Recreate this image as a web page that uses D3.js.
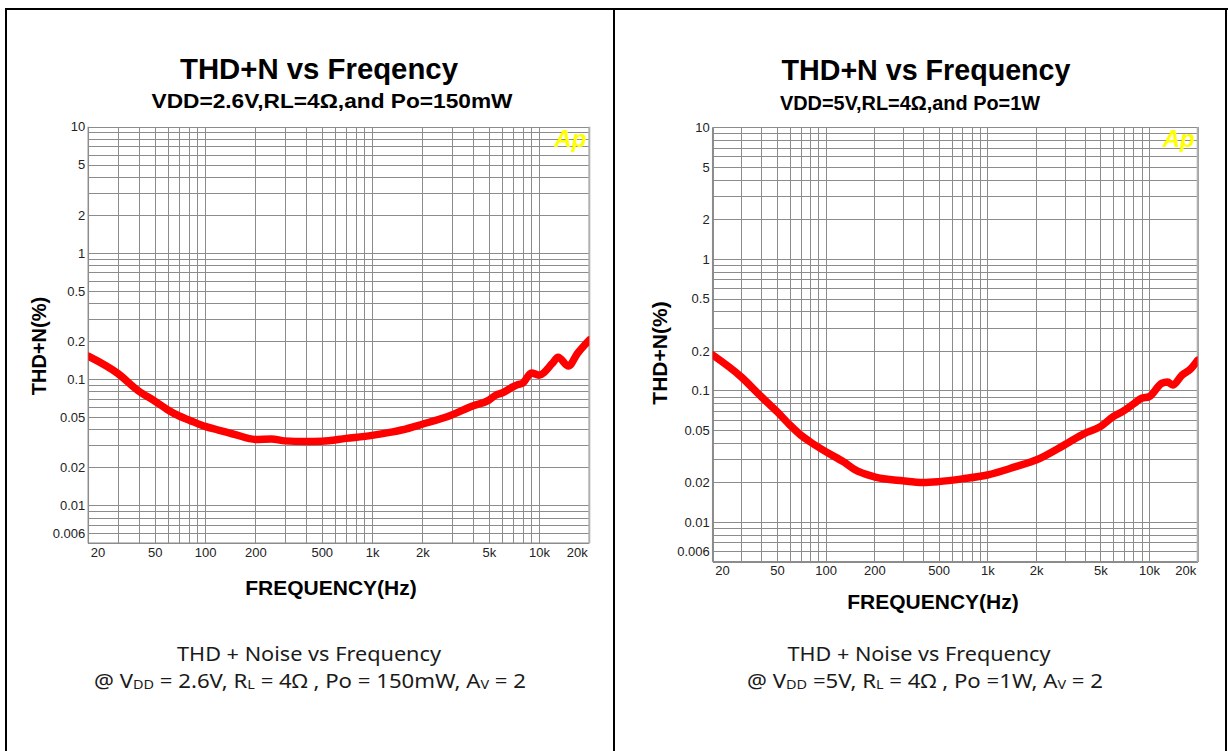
<!DOCTYPE html>
<html><head><meta charset="utf-8">
<script src="https://cdn.jsdelivr.net/npm/d3@7"></script>
<style>html,body{margin:0;padding:0;background:#fff;}svg{display:block;}</style>
</head><body>
<svg id="c" width="1228" height="751"></svg>
<script>
// ---- data ----
const freqTicks = [20, 50, 100, 200, 500, 1000, 2000, 5000, 10000, 20000];
const freqTickLabels = ["20", "50", "100", "200", "500", "1k", "2k", "5k", "10k", "20k"];
const thdTicks = [10, 5, 2, 1, 0.5, 0.2, 0.1, 0.05, 0.02, 0.01, 0.006];
const thdTickLabels = ["10", "5", "2", "1", "0.5", "0.2", "0.1", "0.05", "0.02", "0.01", "0.006"];

const freqLeft = [20, 30, 40, 50, 60, 70, 80, 100, 120, 150, 200, 250, 300, 400, 500, 700, 1000, 1300, 1500, 2000, 3000, 4000, 5000, 5500, 6000, 7000, 7500, 8000, 9000, 10000, 12000, 13000, 15000, 17000, 20000];
const thdLeft  = [0.152, 0.111, 0.0805, 0.067, 0.057, 0.051, 0.0475, 0.0422, 0.0395, 0.0365, 0.0333, 0.0336, 0.0324, 0.0321, 0.0322, 0.0339, 0.0358, 0.038, 0.0395, 0.0439, 0.052, 0.0613, 0.068, 0.0745, 0.0775, 0.087, 0.0905, 0.093, 0.112, 0.1075, 0.133, 0.149, 0.127, 0.16, 0.204];

const freqRight = [20, 30, 40, 50, 60, 70, 80, 100, 130, 150, 200, 300, 400, 500, 700, 1000, 1500, 2000, 3000, 4000, 5000, 6000, 7000, 8000, 9000, 10000, 12000, 13000, 14000, 16000, 18000, 20000];
const thdRight  = [0.186, 0.127, 0.0897, 0.069, 0.0547, 0.0459, 0.0408, 0.0343, 0.0285, 0.0252, 0.0221, 0.0206, 0.0200, 0.0203, 0.0213, 0.0228, 0.0264, 0.0296, 0.0386, 0.0473, 0.0531, 0.0632, 0.0702, 0.0789, 0.0873, 0.0897, 0.1135, 0.116, 0.110, 0.131, 0.145, 0.17];

const svg = d3.select("#c");

// outer table frame
const frame = svg.append("g").attr("stroke", "#000").attr("stroke-width", 2);
frame.append("line").attr("x1", 5).attr("x2", 1228).attr("y1", 9).attr("y2", 9);
frame.append("line").attr("x1", 6).attr("x2", 6).attr("y1", 8).attr("y2", 751);
frame.append("line").attr("x1", 614).attr("x2", 614).attr("y1", 8).attr("y2", 751);
frame.append("line").attr("x1", 1226).attr("x2", 1226).attr("y1", 8).attr("y2", 751);

function drawChart(cfg) {
  const g = svg.append("g");
  const x = d3.scaleLog().domain([20, 20000]).range([cfg.x0, cfg.x1]);
  const y = d3.scaleLog().domain([0.005, 10]).range([cfg.y1, cfg.y0]);

  // titles
  g.append("text").attr("x", cfg.titleX).attr("y", cfg.titleY)
    .attr("text-anchor", "middle").attr("font-family", "Liberation Sans, Arial, sans-serif")
    .attr("font-weight", "bold").attr("font-size", 29).attr("fill", "#000")
    .attr("textLength", cfg.titleW).attr("lengthAdjust", "spacingAndGlyphs")
    .text(cfg.title);
  g.append("text").attr("x", cfg.subX).attr("y", cfg.subY)
    .attr("text-anchor", "middle").attr("font-family", "Liberation Sans, Arial, sans-serif")
    .attr("font-weight", "bold").attr("font-size", 21).attr("fill", "#000")
    .attr("textLength", cfg.subW).attr("lengthAdjust", "spacingAndGlyphs")
    .text(cfg.subtitle);

  // grid
  const grid = g.append("g").attr("stroke", "#8c8c8c").attr("stroke-width", 1).attr("shape-rendering", "crispEdges");
  const yGrid = [], xGrid = [];
  for (let n = -3; n <= 1; n++) for (let k = 1; k <= 9; k++) {
    const v = k * Math.pow(10, n);
    if (v >= 0.005 && v <= 10.0001) yGrid.push(v);
  }
  for (let n = 1; n <= 4; n++) for (let k = 1; k <= 9; k++) {
    const v = k * Math.pow(10, n);
    if (v >= 20 && v <= 20000) xGrid.push(v);
  }
  grid.selectAll(".hy").data(yGrid).join("line")
    .attr("x1", cfg.x0).attr("x2", cfg.x1)
    .attr("y1", d => Math.round(y(d)) + 0.5).attr("y2", d => Math.round(y(d)) + 0.5);
  grid.selectAll(".vx").data(xGrid).join("line")
    .attr("y1", cfg.y0).attr("y2", cfg.y1)
    .attr("x1", d => Math.round(x(d)) + 0.5).attr("x2", d => Math.round(x(d)) + 0.5);
  // borders
  g.append("line").attr("x1", cfg.x0).attr("x2", cfg.x0).attr("y1", cfg.y0).attr("y2", cfg.y1)
    .attr("stroke", "#8c8c8c").attr("stroke-width", 1.5);
  g.append("line").attr("x1", cfg.x0).attr("x2", cfg.x1).attr("y1", cfg.y1).attr("y2", cfg.y1)
    .attr("stroke", "#8c8c8c").attr("stroke-width", 1.5);
  g.append("line").attr("x1", cfg.x1).attr("x2", cfg.x1).attr("y1", cfg.y0).attr("y2", cfg.y1)
    .attr("stroke", "#b0b0b0").attr("stroke-width", 2);

  // axes labels via d3 axes
  const yAxis = d3.axisLeft(y).tickValues(thdTicks).tickSize(0).tickPadding(3)
    .tickFormat((d, i) => thdTickLabels[i]);
  const ya = g.append("g").attr("transform", `translate(${cfg.x0},0)`).call(yAxis);
  ya.select(".domain").remove();
  ya.selectAll("text").attr("font-family", "Liberation Sans, Arial, sans-serif").attr("font-size", 13).attr("fill", "#222");

  const xAxis = d3.axisBottom(x).tickValues(freqTicks).tickSize(0).tickPadding(4)
    .tickFormat((d, i) => freqTickLabels[i]);
  const xa = g.append("g").attr("transform", `translate(0,${cfg.y1})`).call(xAxis);
  xa.select(".domain").remove();
  xa.selectAll("text").attr("font-family", "Liberation Sans, Arial, sans-serif").attr("font-size", 13).attr("fill", "#222")
    .attr("text-anchor", (d, i) => i === 0 ? "start" : (i === freqTicks.length - 1 ? "end" : "middle"))
    .attr("dx", (d, i) => i === 0 ? 2 : (i === freqTicks.length - 1 ? -2 : 0));

  // axis titles
  g.append("text").attr("transform", `translate(${cfg.ytX},${cfg.ytY}) rotate(-90)`)
    .attr("text-anchor", "middle").attr("font-family", "Liberation Sans, Arial, sans-serif")
    .attr("font-weight", "bold").attr("font-size", cfg.ytSize).attr("fill", "#000").text("THD+N(%)");
  g.append("text").attr("x", cfg.xtX).attr("y", cfg.xtY)
    .attr("text-anchor", "middle").attr("font-family", "Liberation Sans, Arial, sans-serif")
    .attr("font-weight", "bold").attr("font-size", 21).attr("fill", "#000").text("FREQUENCY(Hz)");

  // Ap logo
  g.append("text").attr("x", cfg.x1 - 3).attr("y", cfg.y0 + 20)
    .attr("text-anchor", "end").attr("font-family", "Liberation Sans, Arial, sans-serif")
    .attr("font-weight", "bold").attr("font-style", "italic").attr("font-size", 24)
    .attr("fill", "#ffff00").text("Ap");

  // data line
  const clipId = "clip" + cfg.id;
  svg.append("clipPath").attr("id", clipId).append("rect")
    .attr("x", cfg.x0).attr("y", cfg.y0).attr("width", cfg.x1 - cfg.x0).attr("height", cfg.y1 - cfg.y0);
  const line = d3.line().x((d, i) => x(cfg.freq[i])).y(d => y(d)).curve(d3.curveMonotoneX);
  g.append("path").datum(cfg.thd).attr("clip-path", `url(#${clipId})`)
    .attr("d", line).attr("fill", "none").attr("stroke", "#ff0000")
    .attr("stroke-width", 7.5).attr("stroke-linejoin", "round").attr("stroke-linecap", "round");

  // caption
  const cap = g.append("g").attr("font-family", "Noto Sans, DejaVu Sans, sans-serif").attr("fill", "#1a1a1a");
  cap.append("text").attr("x", cfg.cap1X).attr("y", cfg.cap1Y).attr("text-anchor", "middle")
    .attr("font-size", 20).attr("textLength", cfg.cap1W).attr("lengthAdjust", "spacingAndGlyphs")
    .text("THD + Noise vs Frequency");
  const t2 = cap.append("text").attr("x", cfg.cap2X).attr("y", cfg.cap2Y).attr("text-anchor", "middle")
    .attr("font-size", 20).attr("textLength", cfg.cap2W).attr("lengthAdjust", "spacingAndGlyphs");
  cfg.cap2.forEach(p => {
    const ts = t2.append("tspan").text(p.t);
    if (p.sub) ts.attr("font-size", 13).attr("dy", 1);
    else if (p.after) ts.attr("dy", -1);
  });
}

drawChart({
  id: "L", x0: 88.3, x1: 589.3, y0: 126.7, y1: 543.3,
  title: "THD+N vs Freqency", titleX: 319, titleY: 79, titleW: 278,
  subtitle: "VDD=2.6V,RL=4\u03A9,and Po=150mW", subX: 332, subY: 108, subW: 361,
  ytX: 46, ytY: 346, ytSize: 20, xtX: 331, xtY: 595,
  freq: freqLeft, thd: thdLeft,
  cap1X: 309, cap1Y: 661, cap1W: 264, cap2X: 310, cap2Y: 688, cap2W: 432,
  cap2: [{t: "@ V"}, {t: "DD", sub: true}, {t: " = 2.6V, R", after: true}, {t: "L", sub: true},
         {t: " = 4\u03A9 , Po = 150mW, A", after: true}, {t: "V", sub: true}, {t: " = 2", after: true}]
});
drawChart({
  id: "R", x0: 712.7, x1: 1197.7, y0: 127.3, y1: 561.7,
  title: "THD+N vs Frequency", titleX: 926, titleY: 80, titleW: 289,
  subtitle: "VDD=5V,RL=4\u03A9,and Po=1W", subX: 910, subY: 110, subW: 260,
  ytX: 667, ytY: 353, ytSize: 21, xtX: 933, xtY: 609,
  freq: freqRight, thd: thdRight,
  cap1X: 919, cap1Y: 661, cap1W: 263, cap2X: 925, cap2Y: 688, cap2W: 356,
  cap2: [{t: "@ V"}, {t: "DD", sub: true}, {t: " =5V, R", after: true}, {t: "L", sub: true},
         {t: " = 4\u03A9 , Po =1W, A", after: true}, {t: "V", sub: true}, {t: " = 2", after: true}]
});
</script>
</body></html>
